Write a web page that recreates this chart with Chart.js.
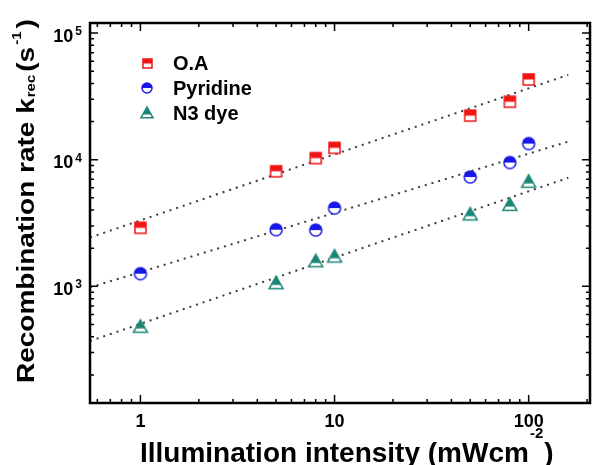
<!DOCTYPE html>
<html>
<head>
<meta charset="utf-8">
<script src="https://cdn.jsdelivr.net/npm/chart.js@4.4.0/dist/chart.umd.min.js"></script>
<style>
    body { margin: 0; background: #fff; }
</style>
</head>
<body>
<canvas id="chart" width="595" height="465"></canvas>
<script>
// Valeurs
const intensity = [1, 5, 8, 10, 50, 80, 100];
const rateOA = [2900, 8100, 10300, 12400, 22300, 28700, 43000];
const ratePyridine = [1260, 2800, 2780, 4150, 7300, 9500, 13400];
const rateN3 = [480, 1060, 1580, 1720, 3700, 4400, 6700];

// Droites d'ajustement (extrémités)
const fitX = [0.55, 160];
const fitOA = [2430, 46700];
const fitPyridine = [980, 13900];
const fitN3 = [370, 7200];

const seriesLabels = ['O.A', 'Pyridine', 'N3 dye'];
const xTickValues = [1, 10, 100];
const xTickLabels = ['1', '10', '100'];
const yTickValues = [1e3, 1e4, 1e5];
const yTickExponents = ['3', '4', '5'];

const RED = '#f01414';
const BLUE = '#1818e8';
const TEAL = '#1b8676';
const FONT = '"Liberation Sans", Arial, sans-serif';

// Symboles à moitié remplis
function makeMarker(shape, color, size) {
    const pad = 2;
    const c = document.createElement('canvas');
    c.width = size + pad * 2;
    c.height = size + pad * 2;
    const g = c.getContext('2d');
    const cx = c.width / 2, cy = c.height / 2, r = size / 2;
    let fillTo = cy;
    g.beginPath();
    if (shape === 'square') {
        g.rect(cx - r, cy - r, size, size);
    } else if (shape === 'circle') {
        g.arc(cx, cy, r, 0, Math.PI * 2);
    } else {
        g.moveTo(cx, cy - r);
        g.lineTo(cx + r, cy + r * 0.8);
        g.lineTo(cx - r, cy + r * 0.8);
        g.closePath();
        fillTo = cy + r * 0.25;
    }
    g.fillStyle = '#fff';
    g.fill();
    g.save();
    g.clip();
    g.fillStyle = color;
    g.fillRect(0, 0, c.width, fillTo);
    g.restore();
    g.strokeStyle = color;
    g.lineWidth = 1.5;
    g.stroke();
    return c;
}

const markers = [
    makeMarker('square', RED, 11),
    makeMarker('circle', BLUE, 12),
    makeMarker('triangle', TEAL, 14)
];
const legendMarkers = [
    makeMarker('square', RED, 9),
    makeMarker('circle', BLUE, 10),
    makeMarker('triangle', TEAL, 12)
];

function points(ys) {
    return intensity.map((x, i) => ({ x: x, y: ys[i] }));
}
function fitPoints(ys) {
    return fitX.map((x, i) => ({ x: x, y: ys[i] }));
}
function fitDataset(ys) {
    return {
        data: fitPoints(ys),
        showLine: true,
        borderColor: '#3c3c3c',
        borderWidth: 2,
        borderDash: [2, 5],
        pointRadius: 0,
        fill: false,
        order: 2
    };
}

// Texte avec indices / exposants
function drawRuns(ctx, runs, x, y) {
    let cx = x;
    runs.forEach(function(r) {
        cx += r.gap || 0;
        ctx.font = 'bold ' + r.size + 'px ' + FONT;
        ctx.fillText(r.text, cx, y + (r.dy || 0));
        cx += ctx.measureText(r.text).width;
    });
}

const decorPlugin = {
    id: 'decor',
    afterDraw(chart) {
        const ctx = chart.ctx;
        const a = chart.chartArea;
        const xs = chart.scales.x, ys = chart.scales.y;
        ctx.save();
        ctx.strokeStyle = '#000';
        ctx.fillStyle = '#000';

        // Cadre
        ctx.lineWidth = 2.5;
        ctx.strokeRect(a.left, a.top, a.right - a.left, a.bottom - a.top);

        // Graduations vers l'intérieur
        ctx.lineWidth = 1.5;
        ctx.beginPath();
        for (let e = -1; e <= 5; e++) {
            for (let k = 1; k <= 9; k++) {
                const v = k * Math.pow(10, e);
                const len = k === 1 ? 8 : 4;
                if (v >= xs.min && v <= xs.max && e <= 2) {
                    const px = xs.getPixelForValue(v);
                    ctx.moveTo(px, a.bottom); ctx.lineTo(px, a.bottom - len);
                    ctx.moveTo(px, a.top); ctx.lineTo(px, a.top + len);
                }
                if (v >= ys.min && v <= ys.max) {
                    const py = ys.getPixelForValue(v);
                    ctx.moveTo(a.left, py); ctx.lineTo(a.left + len, py);
                    ctx.moveTo(a.right, py); ctx.lineTo(a.right - len, py);
                }
            }
        }
        ctx.stroke();

        // Étiquettes de l'axe x
        ctx.textAlign = 'center';
        ctx.textBaseline = 'alphabetic';
        ctx.font = 'bold 18px ' + FONT;
        xTickValues.forEach(function(v, i) {
            ctx.fillText(xTickLabels[i], xs.getPixelForValue(v), a.bottom + 24);
        });

        // Étiquettes de l'axe y (10^n)
        yTickValues.forEach(function(v, i) {
            const py = ys.getPixelForValue(v);
            const xEnd = a.left - 8;
            ctx.font = 'bold 12px ' + FONT;
            const wSup = ctx.measureText(yTickExponents[i]).width;
            ctx.textAlign = 'left';
            ctx.fillText(yTickExponents[i], xEnd - wSup, py + 2);
            ctx.font = 'bold 18px ' + FONT;
            ctx.textAlign = 'right';
            ctx.fillText('10', xEnd - wSup - 2, py + 8.5);
        });

        // Titre de l'axe x
        ctx.textAlign = 'left';
        drawRuns(ctx, [
            { text: 'Illumination intensity (mWcm', size: 28 },
            { text: '-2', size: 15, dy: -24, gap: 1 },
            { text: ')', size: 28, gap: 1 }
        ], 140, 462);

        // Titre de l'axe y
        ctx.save();
        ctx.translate(34, 383);
        ctx.rotate(-Math.PI / 2);
        ctx.scale(1, 0.86);
        drawRuns(ctx, [
            { text: 'Recombination rate k', size: 28 },
            { text: 'rec', size: 15, dy: 1, gap: 1 },
            { text: '(s', size: 28, gap: 3 },
            { text: '-1', size: 15, dy: -15, gap: 2 },
            { text: ')', size: 28, gap: 3 }
        ], 0, 0);
        ctx.restore();

        // Légende
        const legendY = [63, 88, 113];
        legendMarkers.forEach(function(m, i) {
            ctx.drawImage(m, Math.round(147 - m.width / 2), Math.round(legendY[i] - m.height / 2));
            ctx.font = 'bold 20px ' + FONT;
            ctx.textAlign = 'left';
            ctx.fillText(seriesLabels[i], 173, legendY[i] + 7);
        });

        ctx.restore();
    }
};

new Chart(document.getElementById('chart'), {
    type: 'scatter',
    data: {
        datasets: [
            { label: seriesLabels[0], data: points(rateOA), pointStyle: markers[0], order: 1 },
            { label: seriesLabels[1], data: points(ratePyridine), pointStyle: markers[1], order: 1 },
            { label: seriesLabels[2], data: points(rateN3), pointStyle: markers[2], order: 1 },
            fitDataset(fitOA),
            fitDataset(fitPyridine),
            fitDataset(fitN3)
        ]
    },
    options: {
        responsive: false,
        animation: false,
        layout: { padding: { left: 90, top: 23, right: 1, bottom: 62 } },
        scales: {
            x: {
                type: 'logarithmic',
                min: 0.55,
                max: 207,
                ticks: { display: false },
                grid: { display: false, drawTicks: false },
                border: { display: false }
            },
            y: {
                type: 'logarithmic',
                min: 120,
                max: 120000,
                ticks: { display: false },
                grid: { display: false, drawTicks: false },
                border: { display: false }
            }
        },
        plugins: {
            legend: { display: false },
            tooltip: { enabled: false }
        }
    },
    plugins: [decorPlugin]
});
</script>
</body>
</html>
